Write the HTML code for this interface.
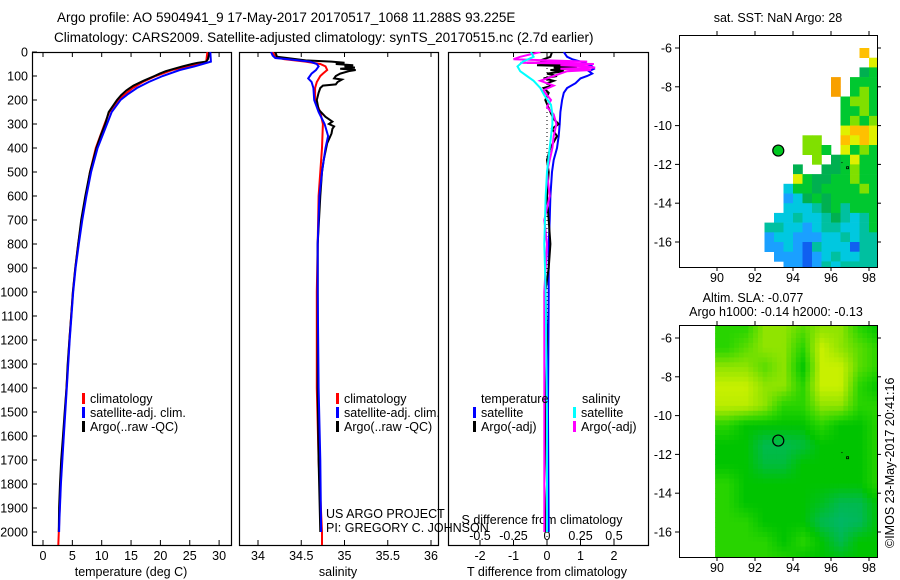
<!DOCTYPE html>
<html><head><meta charset="utf-8"><style>
html,body{margin:0;padding:0;background:#fff;}
svg{display:block;font-family:"Liberation Sans",sans-serif;}
text{font-size:12.5px;fill:#000;}
</style></head><body>
<svg id="fig" width="900" height="580" viewBox="0 0 900 580" xmlns="http://www.w3.org/2000/svg">
<text x="57" y="22" style="font-size:13.5px">Argo profile: AO 5904941_9 17-May-2017 20170517_1068 11.288S 93.225E</text>
<text x="54" y="42" style="font-size:13.5px">Climatology: CARS2009. Satellite-adjusted climatology: synTS_20170515.nc (2.7d earlier)</text>
<text x="778" y="22" text-anchor="middle">sat. SST: NaN Argo: 28</text>
<text x="753" y="302" text-anchor="middle">Altim. SLA: -0.077</text>
<text x="776" y="316" text-anchor="middle">Argo h1000: -0.14 h2000: -0.13</text>
<text x="131" y="576" text-anchor="middle">temperature (deg C)</text>
<text x="338" y="576" text-anchor="middle">salinity</text>
<text x="547" y="576" text-anchor="middle">T difference from climatology</text>
<text transform="translate(894,548) rotate(-90)">©IMOS 23-May-2017 20:41:16</text>
</svg>
<script>
// ---------- data ----------
const tDepthClim = [0,40,50,60,75,100,125,150,175,200,250,300,400,500,600,700,800,900,1000,1200,1400,1600,1800,2000,2055];
const tClim = [28.0,27.8,26.2,24.6,22.0,19.2,17.0,15.3,14.0,12.8,11.3,10.5,9.0,8.0,7.3,6.6,6.0,5.5,5.1,4.5,4.0,3.5,3.0,2.7,2.6];
const tDepthSat = [0,40,50,60,75,100,125,150,175,200,250,300,400,500,600,700,800,900,1000,1200,1400,1600,1800,1950,2000];
const tSat = [28.5,28.6,27.2,25.8,23.3,20.4,18.0,16.0,14.5,13.2,11.7,10.9,9.3,8.2,7.4,6.7,6.1,5.55,5.15,4.55,4.05,3.55,3.05,2.8,2.75];
const tDepthArgo = [0,10,20,30,40,45,50,60,70,80,90,100,120,140,160,180,200,250,300,350,400,500,600,700,800,900,1000,1100,1200,1300,1400,1500,1600,1700,1800,1900,2000];
const tArgo = [28.3,28.3,28.2,28.1,27.8,26.3,25.4,23.8,22.3,20.9,19.9,19.0,17.1,15.4,14.2,13.3,12.6,11.2,10.6,9.8,9.1,8.0,7.2,6.5,6.0,5.5,5.1,4.8,4.5,4.2,4.0,3.7,3.4,3.1,2.9,2.75,2.7];

const sDepthClim = [0,20,30,40,50,60,75,90,100,125,150,200,250,300,400,500,600,800,1000,1400,1700,2000,2055];
const sClim = [34.17,34.2,34.3,34.55,34.72,34.78,34.8,34.75,34.72,34.68,34.66,34.66,34.72,34.75,34.74,34.72,34.70,34.69,34.68,34.68,34.70,34.74,34.74];
const sDepthSat = [0,15,25,30,40,50,60,75,90,100,110,125,150,200,250,300,350,400,500,600,800,1000,1400,1700,2000];
const sSat = [34.15,34.17,34.2,34.35,34.6,34.68,34.7,34.67,34.62,34.6,34.58,34.62,34.64,34.65,34.7,34.77,34.81,34.78,34.74,34.71,34.69,34.69,34.7,34.72,34.73];
const sDepthArgo = [0,20,35,40,45,50,55,60,65,70,75,80,90,100,110,115,125,135,140,150,170,200,240,270,290,300,310,320,340,380,450,500,600,800,1000,1400,1700,2000];
const sArgo = [34.2,34.22,34.55,34.85,35.0,34.9,35.1,35.0,35.12,34.95,35.13,35.05,34.95,34.9,34.88,34.97,34.92,34.9,34.75,34.72,34.7,34.68,34.7,34.78,34.86,34.82,34.88,34.86,34.85,34.8,34.76,34.74,34.72,34.69,34.69,34.69,34.7,34.72];

const dDepthTSat = [0,10,20,30,40,50,60,70,80,90,100,110,130,150,170,200,250,300,350,400,450,500,600,700,800,1000,1500,2000];
const dTSat = [0.5,0.55,0.6,0.75,1.0,1.2,1.35,1.4,1.25,1.35,1.2,1.0,0.85,0.6,0.5,0.45,0.4,0.38,0.35,0.3,0.2,0.15,0.1,0.08,0.05,0.05,0.03,0.05];
const dDepthTArgo = [0,20,35,40,45,50,55,60,65,70,75,80,90,100,110,120,130,140,150,170,200,250,280,300,320,350,400,450,500,600,700,800,900,1000,1200,1500,1800,2000];
const dTArgo = [0.15,0.1,-0.2,0.5,-0.6,0.8,-0.3,0.9,0.2,0.7,0.1,0.5,0.0,0.3,-0.1,0.2,0.0,0.15,-0.1,0.05,-0.05,0.1,0.2,0.35,0.15,0.3,0.1,0.0,0.05,0.0,0.05,0.1,0.05,-0.05,0.0,-0.05,0.0,-0.05];
const dDepthSSat = [0,20,40,60,80,100,120,150,180,220,260,300,400,500,600,800,1000,1500,2000];
const dSSat = [-0.12,-0.1,-0.18,-0.22,-0.2,-0.15,-0.1,-0.05,-0.02,0.03,0.04,0.04,0.02,0.0,-0.01,-0.02,-0.01,0.0,0.0];
const dDepthSArgo = [0,20,30,40,45,50,55,60,65,70,75,80,90,100,110,120,140,160,180,200,230,260,300,350,400,500,600,700,800,1000,1500,2000];
const dSArgo = [-0.05,-0.2,-0.25,0.3,-0.2,0.35,0.1,0.3,0.36,0.1,0.33,0.15,0.1,0.05,0.0,-0.05,0.05,-0.03,0.0,0.03,0.0,0.05,0.07,0.05,0.04,0.0,0.02,-0.02,0.0,-0.02,-0.02,-0.02];

const depthTicks = [0,100,200,300,400,500,600,700,800,900,1000,1100,1200,1300,1400,1500,1600,1700,1800,1900,2000];
const tempTicks = [0,5,10,15,20,25,30];
const salTicks = ["34","34.5","35","35.5","36"];
const dTTicks = ["-2","-1","0","1","2"];
const dSTicks = ["-0.5","-0.25","0","0.25","0.5"];
const lonTicks = [90,92,94,96,98];
const latTicks = [-6,-8,-10,-12,-14,-16];

const sstPalette = {b:"#1aa0ff",B:"#1060f0",c:"#00c8e0",t:"#00c0a0",g:"#00c830",G:"#00b050",l:"#80e000",y:"#e0f000",o:"#ffc000",O:"#f8a000"};
const sstGrid = [
".....................",
"...................o.",
"....................y",
"...................Gg",
"................O.ggg",
"................O.glg",
".................gllg",
".................gglg",
".................glgl",
".................yooy",
".............ll..oyoy",
".............llg.yglg",
"..............l.Ggygg",
"............G..GGglgg",
"............ygGGgglgg",
"...........cggGgggglg",
"...........bcGgGggggg",
"...........ccctGgtggg",
"..........cctcctGtctg",
".........ttccbcttcctg",
".........bccbbbcctctt",
".........bbcbBtcccBtt",
"..........bbbBbctcctt",
"...........bbBbtctttt"];
// SLA values on 1-degree grid (lon 90.5..98.5 centers, lat -5.5..-17.5 centers)
const slaValues = [
[0.40,0.40,0.70,0.70,0.55,0.70,0.70,0.40,0.25],
[0.40,0.55,0.70,0.70,0.40,0.90,0.70,0.55,0.40],
[0.70,0.70,0.55,0.70,0.25,0.90,0.90,0.55,0.40],
[0.90,0.90,0.70,0.70,0.40,0.90,0.90,0.40,0.25],
[0.85,0.85,0.70,0.40,0.40,0.70,0.70,0.40,0.40],
[0.40,0.25,0.25,0.25,0.25,0.40,0.25,0.25,0.40],
[0.25,0.25,0.12,0.12,0.15,0.25,0.25,0.25,0.40],
[0.25,0.25,0.15,0.15,0.25,0.25,0.25,0.25,0.40],
[0.40,0.25,0.25,0.25,0.25,0.25,0.25,0.25,0.40],
[0.40,0.25,0.25,0.25,0.25,0.20,0.12,0.12,0.25],
[0.40,0.40,0.25,0.25,0.25,0.12,0.08,0.10,0.25],
[0.40,0.40,0.40,0.25,0.40,0.25,0.12,0.25,0.25],
[0.40,0.40,0.40,0.40,0.25,0.25,0.25,0.25,0.25]];
const argoLon = 93.225, argoLat = -11.288;

// ---------- helpers ----------
const NS = "http://www.w3.org/2000/svg";
const svg = document.getElementById("fig");
function mk(tag, attrs, parent) {
  const e = document.createElementNS(NS, tag);
  for (const k in attrs) e.setAttribute(k, attrs[k]);
  (parent || svg).appendChild(e);
  return e;
}
const yD = d => 52 + d * 0.24;
const xT = t => 43 + t * 5.87;
const xS = s => 258 + (s - 34) * 86.5;
const xDT = t => 547 + t * 33.5;
const xDS = s => 547 + s * 134;
const m1x = lon => 717 + (lon - 90) * 19;
const m1y = lat => 48 + (-6 - lat) * 19.4;
const m2x = lon => 717 + (lon - 90) * 19;
const m2y = lat => 338 + (-6 - lat) * 19.4;

const defs = mk("defs", {});
[["c1",32,52,199,493],["c2",239,52,199,493],["c3",448,52,200,493],["cm1",679,35,198,232],["cm2",679,325,198,232]].forEach(c => {
  const cp = mk("clipPath", {id: c[0]}, defs);
  mk("rect", {x: c[1], y: c[2], width: c[3], height: c[4]}, cp);
});

function profile(depths, vals, xf, color, clip, name) {
  const pts = depths.map((d, i) => xf(vals[i]).toFixed(1) + "," + yD(d).toFixed(1)).join(" ");
  const p = mk("polyline", {points: pts, fill: "none", stroke: color, "stroke-width": 2, "clip-path": "url(#" + clip + ")"});
  
  
}

// ---------- maps ----------
const g1 = mk("g", {"clip-path": "url(#cm1)"});


sstGrid.forEach((row, i) => {
  for (let j = 0; j < row.length; j++) {
    const ch = row[j];
    if (ch === ".") continue;
    const lon = 88 + 0.5 * j, lat = -5.5 - 0.5 * i;
    const x0 = m1x(lon), y0 = m1y(lat);
    const r = mk("rect", {x: x0.toFixed(1), y: y0.toFixed(1), width: (m1x(lon + 0.5) - x0 + 0.3).toFixed(1), height: (m1y(lat - 0.5) - y0 + 0.3).toFixed(1), fill: sstPalette[ch]}, g1);
    
    
  }
});
// SLA colour scale
const cStops = [[0.05,[0,180,120]],[0.25,[0,196,0]],[0.4,[40,212,0]],[0.55,[88,220,0]],[0.7,[144,228,0]],[0.9,[200,240,0]]];
function slaColor(v) {
  if (v <= cStops[0][0]) return "rgb(" + cStops[0][1] + ")";
  for (let k = 1; k < cStops.length; k++) {
    if (v <= cStops[k][0]) {
      const a = cStops[k-1], b = cStops[k], f = (v - a[0]) / (b[0] - a[0]);
      return "rgb(" + a[1].map((c, q) => Math.round(c + (b[1][q] - c) * f)).join(",") + ")";
    }
  }
  return "rgb(" + cStops[cStops.length-1][1] + ")";
}
function slaAt(lon, lat) {
  const fx = Math.max(0, Math.min(8, lon - 90.5)), fy = Math.max(0, Math.min(12, -5.5 - lat));
  const i0 = Math.floor(fy), j0 = Math.floor(fx), i1 = Math.min(12, i0 + 1), j1 = Math.min(8, j0 + 1);
  const u = fx - j0, w = fy - i0;
  return (slaValues[i0][j0]*(1-u)+slaValues[i0][j1]*u)*(1-w) + (slaValues[i1][j0]*(1-u)+slaValues[i1][j1]*u)*w;
}
const g2 = mk("g", {"clip-path": "url(#cm2)"});


for (let lat = -5; lat > -17.5; lat -= 0.25) {
  for (let lon = 89.9; lon < 98.5; lon += 0.25) {
    const x0 = m2x(lon), y0 = m2y(lat);
    const r = mk("rect", {x: x0.toFixed(1), y: y0.toFixed(1), width: 5.2, height: 5.3, fill: slaColor(slaAt(lon + 0.125, lat - 0.125))}, g2);
    
    
  }
}
const am1 = mk("circle", {cx: m1x(argoLon), cy: m1y(argoLat), r: 5.5, fill: "#00c820", stroke: "#000", "stroke-width": 1.2});


const am2 = mk("circle", {cx: m2x(argoLon), cy: m2y(argoLat), r: 5.5, fill: "none", stroke: "#000", "stroke-width": 1.2});


[[m1x,m1y],[m2x,m2y]].forEach(f => {
  mk("rect", {x: f[0](96.82), y: f[1](-12.12), width: 2, height: 2, fill: "none", stroke: "#000", "stroke-width": 0.8});
  mk("rect", {x: f[0](96.55), y: f[1](-11.88), width: 1, height: 1, fill: "#000"});
});

[[35,267,m1y,"sst"],[325,557,m2y,"sla"]].forEach(m => {
  const fr = mk("rect", {x: 679.5, y: m[0] + 0.5, width: 198, height: m[1] - m[0], fill: "none", stroke: "#000", "stroke-width": 1});
  
  
  lonTicks.forEach(lon => {
    const x = m1x(lon);
    mk("line", {x1: x, x2: x, y1: m[0], y2: m[0] - 4, stroke: "#000"});
    mk("line", {x1: x, x2: x, y1: m[1], y2: m[1] + 4, stroke: "#000"});
    const t = mk("text", {x: x, y: m[1] + 15, "text-anchor": "middle"});
    t.textContent = lon;
    
    
  });
  latTicks.forEach(lat => {
    const y = m[2](lat);
    mk("line", {x1: 679, x2: 675, y1: y, y2: y, stroke: "#000"});
    mk("line", {x1: 877, x2: 881, y1: y, y2: y, stroke: "#000"});
    const t = mk("text", {x: 672, y: y + 4.5, "text-anchor": "end"});
    t.textContent = lat;
    
    
  });
});

// ---------- profile panels ----------
const panels = [[32,231,"temperature"],[239,438,"salinity"],[448,648,"difference"]];
panels.forEach(p => {
  const r = mk("rect", {x: p[0] + 0.5, y: 52.5, width: p[1] - p[0], height: 493, fill: "none", stroke: "#000", "stroke-width": 1.2});
  
  
});
depthTicks.forEach(d => {
  const y = yD(d);
  mk("line", {x1: 32, x2: 37, y1: y, y2: y, stroke: "#000"});
  const t = mk("text", {x: 28, y: y + 4.5, "text-anchor": "end"});
  t.textContent = d;
  
  
});
function xTicks(vals, xf, yTop, yBot, labelY, name) {
  vals.forEach(v => {
    const x = xf(+v);
    mk("line", {x1: x, x2: x, y1: yTop, y2: yTop + 5, stroke: "#000"});
    mk("line", {x1: x, x2: x, y1: yBot, y2: yBot - 5, stroke: "#000"});
    const t = mk("text", {x: x, y: labelY, "text-anchor": "middle"});
    t.textContent = v;
    
    
  });
}
xTicks(tempTicks, xT, 52, 545, 560, 'temperature-tick-label');
xTicks(salTicks, xS, 52, 545, 560, 'salinity-tick-label');
xTicks(dTTicks, xDT, 52, 545, 560, 't-diff-tick-label');
dSTicks.forEach(v => {
  const t = mk("text", {x: xDS(+v), y: 540, "text-anchor": "middle"});
  t.textContent = v;
  
  
});
const sdt = mk("text", {x: 542, y: 524, "text-anchor": "middle"});
sdt.textContent = "S difference from climatology";



const zl = mk("line", {x1: 547, x2: 547, y1: 52, y2: 545, stroke: "#000", "stroke-dasharray": "1,3"});



profile(tDepthClim, tClim, xT, "#ff0000", "c1", "temperature-climatology-line");
profile(tDepthArgo, tArgo, xT, "#000000", "c1", "temperature-argo-line");
profile(tDepthSat, tSat, xT, "#0000ff", "c1", "temperature-satellite-line");
profile(sDepthClim, sClim, xS, "#ff0000", "c2", "salinity-climatology-line");
profile(sDepthArgo, sArgo, xS, "#000000", "c2", "salinity-argo-line");
profile(sDepthSat, sSat, xS, "#0000ff", "c2", "salinity-satellite-line");
profile(dDepthTSat, dTSat, xDT, "#0000ff", "c3", "t-diff-satellite-line");
profile(dDepthTArgo, dTArgo, xDT, "#000000", "c3", "t-diff-argo-line");
profile(dDepthSArgo, dSArgo, xDS, "#ff00ff", "c3", "s-diff-argo-line");
profile(dDepthSSat, dSSat, xDS, "#00ffff", "c3", "s-diff-satellite-line");

function legend(x, y, color, label, name) {
  const m = mk("rect", {x: x, y: y - 10, width: 3, height: 11, fill: color});
  
  
  const t = mk("text", {x: x + 8, y: y});
  t.textContent = label;
  
  
}
[[82,"temp"],[336,"sal"]].forEach(L => {
  legend(L[0], 403, "#ff0000", "climatology", L[1] + '-legend-climatology');
  legend(L[0], 417, "#0000ff", "satellite-adj. clim.", L[1] + '-legend-satellite');
  legend(L[0], 431, "#000000", "Argo(..raw -QC)", L[1] + '-legend-argo');
});
const lt = mk("text", {x: 481, y: 403}); lt.textContent = "temperature";


const ls = mk("text", {x: 582, y: 403}); ls.textContent = "salinity";


legend(473, 417, "#0000ff", "satellite", 'diff-legend-t-satellite');
legend(473, 431, "#000000", "Argo(-adj)", 'diff-legend-t-argo');
legend(573, 417, "#00ffff", "satellite", 'diff-legend-s-satellite');
legend(573, 431, "#ff00ff", "Argo(-adj)", 'diff-legend-s-argo');

const c1 = mk("text", {x: 326, y: 518}); c1.textContent = "US ARGO PROJECT";


const c2 = mk("text", {x: 326, y: 532}); c2.textContent = "PI: GREGORY C. JOHNSON";


</script>
</body></html>
